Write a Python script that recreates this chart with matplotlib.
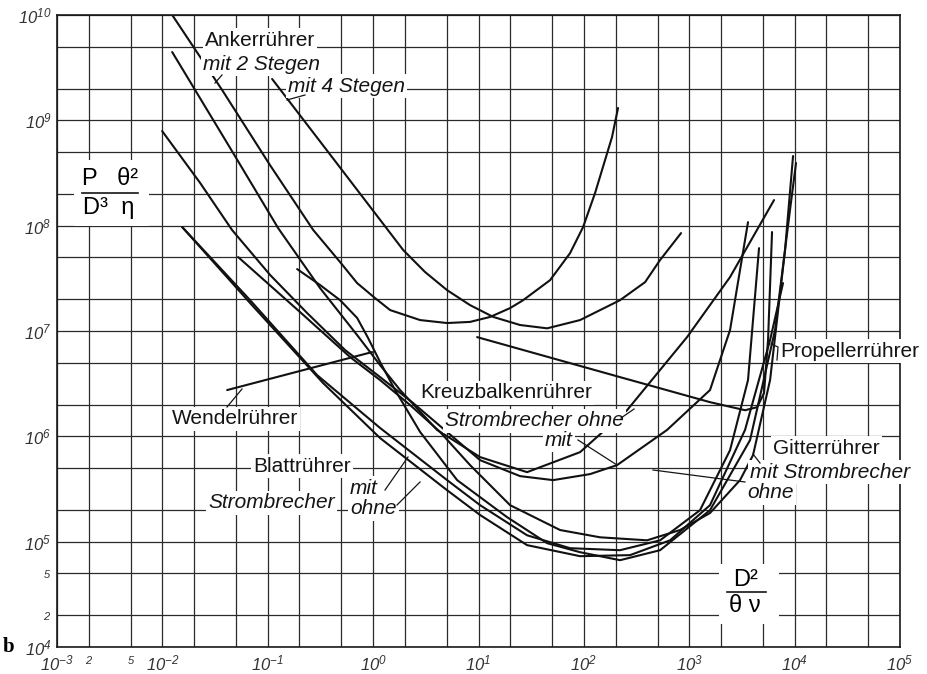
import math
import matplotlib
matplotlib.use('Agg')
import matplotlib.pyplot as plt
import matplotlib.patches as mpatches
from matplotlib.ticker import FixedLocator, FuncFormatter
from matplotlib.lines import Line2D

plt.rcParams['font.family'] = ['Liberation Sans', 'DejaVu Sans']
plt.rcParams['mathtext.fontset'] = 'custom'
plt.rcParams['mathtext.rm'] = 'Liberation Sans:italic'
plt.rcParams['mathtext.it'] = 'Liberation Sans:italic'
plt.rcParams['mathtext.default'] = 'rm'

# ---------------- data ----------------
x_decades = [-3, -2, -1, 0, 1, 2, 3, 4, 5]
y_decades = [4, 5, 6, 7, 8, 9, 10]

anker2_x = [0.0124, 0.0369, 0.105, 0.27, 0.486, 0.705, 1.045, 1.45, 2.79, 5.04, 8.32, 12.9,
            19.95, 26.5, 47.8, 74.0, 98.3, 127.7, 158.9, 185, 211]
anker2_y = [1e10, 1.94e9, 3.76e8, 9.1e7, 4.51e7, 2.85e7, 2.05e7, 1.58e7, 1.27e7, 1.19e7, 1.22e7, 1.36e7,
            1.65e7, 1.96e7, 3.04e7, 5.49e7, 9.7e7, 2.04e8, 4.2e8, 6.94e8, 1.31e9]

anker4_x = [0.110, 0.466, 1.93, 3.11, 5.04, 8.32, 13.8, 24.8, 44.8, 92, 220, 381, 528, 836]
anker4_y = [2.47e9, 3.76e8, 5.87e7, 3.63e7, 2.44e7, 1.76e7, 1.36e7, 1.14e7, 1.06e7, 1.27e7, 1.96e7,
            2.91e7, 4.71e7, 8.5e7]

wendel_x = [0.0412, 0.978]
wendel_y = [2.75e6, 6.31e6]

propeller_x = [9.7, 220, 1575, 3385, 4400, 5125, 5595, 6105]
propeller_y = [8.75e6, 3.65e6, 2.11e6, 1.77e6, 1.89e6, 2.57e6, 8.2e6, 8.7e7]

blatt_mit_x = [0.01542, 0.06808, 0.2943, 1.165, 5.035, 10.36, 28.90, 73.98, 220.4, 528.6, 1265,
               2438, 3611, 4594]
blatt_mit_y = [9.70e7, 1.96e7, 3.81e6, 1.20e6, 3.84e5, 2.22e5, 1.15e5, 8.67e4, 8.30e4, 1.03e5, 1.99e5,
               7.39e5, 3.42e6, 6.12e7]

blatt_ohne_x = [0.01542, 0.06808, 0.3356, 1.165, 5.035, 10.36, 28.90, 92.07, 274.2, 657.6, 1574,
                3383, 5848, 7762]
blatt_ohne_y = [9.70e7, 1.84e7, 3.20e6, 9.62e5, 3.08e5, 1.79e5, 9.27e4, 7.28e4, 7.45e4, 1.03e5, 2.22e5,
                1.15e6, 8.20e6, 2.85e7]

kreuz_ohne_x = [0.01239, 0.04397, 0.1255, 0.3141, 0.7053, 1.165, 1.803, 4.047, 10.36, 28.90,
                92.07, 256.8, 953, 2438, 6379]
kreuz_ohne_y = [4.45e9, 5.46e8, 9.48e7, 2.55e7, 9.14e6, 4.74e6, 2.75e6, 1.15e6, 6.35e5, 4.57e5,
                7.08e5, 1.77e6, 8.75e6, 3.25e7, 1.75e8]

kreuz_mit_x = [0.00995, 0.02285, 0.04592, 0.1054, 0.2366, 0.5425, 1.165, 2.397, 10.36, 24.81, 51.03,
               114.5, 206.6, 615.6, 1574, 2438, 3611]
kreuz_mit_y = [7.91e8, 2.54e8, 9.08e7, 3.40e7, 1.48e7, 6.59e6, 3.65e6, 2.07e6, 5.94e5, 4.19e5, 3.84e5,
               4.38e5, 5.33e5, 1.15e6, 2.75e6, 1.02e7, 1.08e8]

gitter_mit_x = [0.05240, 0.2030, 0.6049, 1.165, 2.244, 4.321, 8.32, 19.95, 59.45, 142.5, 397.8, 818.0,
                1574, 3034, 4030, 5848, 8110, 9661]
gitter_mit_y = [5.03e7, 1.51e7, 5.65e6, 3.42e6, 1.98e6, 1.10e6, 5.33e5, 2.22e5, 1.29e5, 1.10e5, 1.03e5,
                1.29e5, 1.87e5, 3.84e5, 6.63e5, 3.42e6, 5.87e7, 4.58e8]

gitter_ohne_x = [0.1901, 0.3141, 0.4864, 0.7053, 0.8966, 1.165, 1.617, 2.792, 6.269, 18.66, 44.75, 92.07,
                 220.4, 528.6, 1574, 3774, 6518, 9040, 10310]
gitter_ohne_y = [3.87e7, 2.73e7, 1.96e7, 1.33e7, 8.57e6, 5.07e6, 2.75e6, 1.10e6, 3.84e5, 1.71e5, 9.68e4,
                 7.94e4, 6.67e4, 8.30e4, 1.99e5, 9.20e5, 1.02e7, 1.41e8, 3.93e8]

curves = [
    (anker2_x, anker2_y), (anker4_x, anker4_y), (wendel_x, wendel_y),
    (propeller_x, propeller_y), (blatt_mit_x, blatt_mit_y), (blatt_ohne_x, blatt_ohne_y),
    (kreuz_ohne_x, kreuz_ohne_y), (kreuz_mit_x, kreuz_mit_y),
    (gitter_mit_x, gitter_mit_y), (gitter_ohne_x, gitter_ohne_y),
]

# ---------------- figure ----------------
W, H = 927, 674
fig = plt.figure(figsize=(W / 100, H / 100), dpi=100)
ax = fig.add_axes([57 / W, 1 - 647 / H, (900 - 57) / W, (647 - 15) / H])
ax.set_xscale('log')
ax.set_yscale('log')
ax.set_xlim(10.0 ** x_decades[0], 10.0 ** x_decades[-1])
ax.set_ylim(10.0 ** y_decades[0], 10.0 ** y_decades[-1])

xmaj = [10.0 ** d for d in x_decades]
ymaj = [10.0 ** d for d in y_decades]
xmin = [m * 10.0 ** d for d in x_decades[:-1] for m in (2, 5)]
ymin = [m * 10.0 ** d for d in y_decades[:-1] for m in (2, 5)]
ax.xaxis.set_major_locator(FixedLocator(xmaj))
ax.yaxis.set_major_locator(FixedLocator(ymaj))
ax.xaxis.set_minor_locator(FixedLocator(xmin))
ax.yaxis.set_minor_locator(FixedLocator(ymin))

def major_fmt(v, pos):
    e = int(round(math.log10(v)))
    return r'$10^{%d}$' % e

def minor_fmt_x(v, pos):
    if v < 10.0 ** (x_decades[0] + 1):
        return r'$%d$' % round(v / 10.0 ** x_decades[0])
    return ''

def minor_fmt_y(v, pos):
    if v < 10.0 ** (y_decades[0] + 1):
        return r'$%d$' % round(v / 10.0 ** y_decades[0])
    return ''

ax.xaxis.set_major_formatter(FuncFormatter(major_fmt))
ax.yaxis.set_major_formatter(FuncFormatter(major_fmt))
ax.xaxis.set_minor_formatter(FuncFormatter(minor_fmt_x))
ax.yaxis.set_minor_formatter(FuncFormatter(minor_fmt_y))
ax.tick_params(which='both', length=0, colors='#333333')
ax.tick_params(which='major', labelsize=12)
ax.tick_params(which='minor', labelsize=8)
ax.tick_params(axis='x', which='both', pad=5)
ax.tick_params(axis='y', which='both', pad=4)

ax.grid(which='both', color='#2a2a2a', linewidth=0.9)
ax.set_axisbelow(True)
for s in ax.spines.values():
    s.set_linewidth(1.2)
    s.set_color('#1a1a1a')

for cx, cy in curves:
    ax.plot(cx, cy, color='#111111', linewidth=1.5, solid_joinstyle='round',
            solid_capstyle='round', zorder=2)

# ---------------- annotations (pixel layout) ----------------
def fx(px):
    return px / W

def fy(py):
    return 1 - py / H

box = dict(facecolor='white', edgecolor='none', pad=1.5)

def label(px, py, s, italic=False, size=15, ha='left'):
    fig.text(fx(px), fy(py), s, fontsize=size, ha=ha, va='center',
             style='italic' if italic else 'normal', color='#151515',
             bbox=box, zorder=5)

label(205, 40, 'Ankerrührer')
label(203, 64, 'mit 2 Stegen', italic=True)
label(288, 86, 'mit 4 Stegen', italic=True)
label(172, 419, 'Wendelrührer')
label(253, 466, 'Blattrührer')
label(208, 503, 'Strombrecher', italic=True)
label(350, 488, 'mit', italic=True)
label(350, 509, 'ohne', italic=True)
label(420, 393, 'Kreuzbalkenrührer')
label(445, 421, 'Strombrecher ohne', italic=True)
label(545, 440, 'mit', italic=True)
label(780, 351, 'Propellerrührer')
label(773, 448, 'Gitterrührer')
label(750, 472, 'mit Strombrecher', italic=True)
label(747, 493, 'ohne', italic=True)

def leader(pts, lw=0.9):
    fig.add_artist(Line2D([fx(p[0]) for p in pts], [fy(p[1]) for p in pts],
                          color='#151515', linewidth=lw, zorder=6))

leader([(215, 83), (222, 75)])
leader([(287, 100), (305, 95)])
leader([(227, 407), (242, 389)])
leader([(385, 490), (408, 457)])
leader([(397, 505), (420, 482)])
leader([(621, 418), (634, 409)])
leader([(578, 440), (617, 465)])
leader([(771, 344), (778, 347), (777, 360)])
leader([(753, 454), (760, 463)])
leader([(653, 470), (745, 482)])

# y-axis quantity as a fraction
fig.patches.append(mpatches.Rectangle((fx(74), fy(226)), 75 / W, 66 / H,
                   transform=fig.transFigure, facecolor='white', edgecolor='none', zorder=4))
fig.text(fx(110), fy(179), 'P   θ²', fontsize=17, ha='center', va='center', zorder=6)
fig.text(fx(109), fy(208), 'D³  η', fontsize=17, ha='center', va='center', zorder=6)
leader([(82, 193), (138, 193)], lw=1.2)

# x-axis quantity as a fraction
fig.patches.append(mpatches.Rectangle((fx(719), fy(624)), 60 / W, 60 / H,
                   transform=fig.transFigure, facecolor='white', edgecolor='none', zorder=4))
fig.text(fx(746), fy(580), 'D²', fontsize=17, ha='center', va='center', zorder=6)
fig.text(fx(745), fy(606), 'θ ν', fontsize=17, ha='center', va='center', zorder=6)
leader([(727, 592), (766, 592)], lw=1.2)

fig.text(fx(9), fy(647), 'b', fontsize=15, fontweight='bold', family='Liberation Serif',
         ha='center', va='center')

fig.savefig('out.png', dpi=100)
